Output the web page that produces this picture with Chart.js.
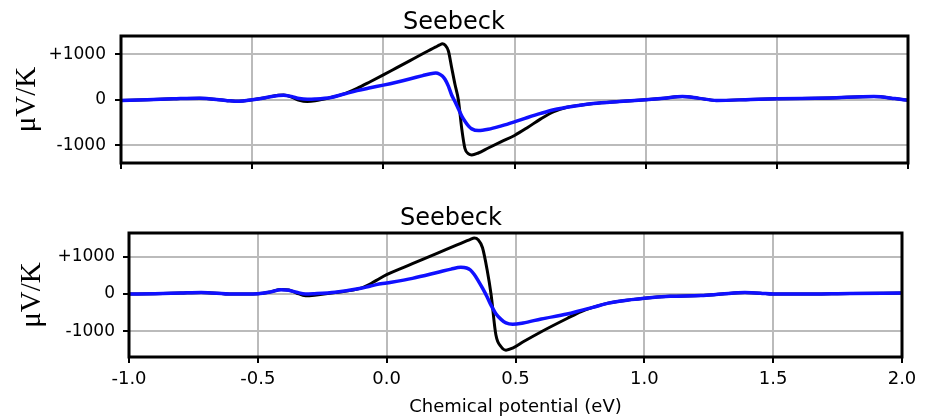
<!DOCTYPE html>
<html>
<head>
<meta charset="utf-8">
<script src="https://cdn.jsdelivr.net/npm/chart.js@4"></script>
<style>
  html, body { margin: 0; padding: 0; background: #fff; }
  #top-box { position: absolute; left: 0; top: 0; width: 935px; height: 190px; }
  #bottom-box { position: absolute; left: 0; top: 190px; width: 935px; height: 229px; }
</style>
</head>
<body>
<div id="top-box"><canvas id="topChart"></canvas></div>
<div id="bottom-box"><canvas id="bottomChart"></canvas></div>
<script>
// top panel
var topX = [-1.0, -0.9, -0.8, -0.7, -0.6, -0.55, -0.5, -0.45, -0.4, -0.38, -0.35, -0.32, -0.29, -0.26, -0.2, -0.15, -0.1, -0.05,
  0.0, 0.05, 0.1, 0.15, 0.18, 0.2, 0.215, 0.225, 0.235, 0.248, 0.26, 0.273, 0.286, 0.299, 0.311, 0.325, 0.337, 0.362,
  0.4, 0.45, 0.5, 0.55, 0.6, 0.65, 0.7, 0.75, 0.8, 0.9, 1.0, 1.07, 1.14, 1.2, 1.27, 1.4, 1.5, 1.7, 1.87, 1.95, 2.0];
var topBlack = [-15, 0, 20, 35, -15, -35, 0, 45, 100, 105, 60, -15, -40, -25, 50, 130, 250, 395,
  545, 700, 855, 1010, 1100, 1160, 1205, 1228, 1200, 1070, 720, 340, 0, -640, -1070, -1190, -1213, -1170,
  -1060, -920, -785, -610, -420, -260, -165, -120, -85, -40, 0, 35, 70, 35, -15, 5, 20, 40, 70, 25, -15];
var topBlue = [-15, 0, 20, 35, -15, -35, 0, 45, 95, 100, 70, 25, 10, 15, 50, 125, 200, 262,
  321, 385, 455, 530, 572, 585, 560, 520, 450, 300, 110, -40, -200, -360, -470, -580, -640, -678,
  -650, -575, -486, -390, -300, -220, -165, -120, -85, -40, 0, 35, 70, 35, -15, 5, 20, 40, 70, 25, -15];

// bottom panel
var botX = [-1.0, -0.9, -0.8, -0.72, -0.6, -0.5, -0.45, -0.41, -0.38, -0.35, -0.315, -0.28, -0.2, -0.1, -0.07, -0.04,
  0.0, 0.1, 0.2, 0.25, 0.288, 0.31, 0.325, 0.34, 0.355, 0.372, 0.39, 0.405, 0.424, 0.445, 0.463, 0.489, 0.53,
  0.6, 0.7, 0.755, 0.8, 0.86, 0.95, 1.0, 1.1, 1.22, 1.3, 1.39, 1.45, 1.5, 1.6, 1.8, 2.0];
var botBlack = [0, 10, 30, 45, 0, 10, 60, 125, 110, 30, -45, -30, 40, 160, 250, 370,
  525, 820, 1110, 1260, 1370, 1435, 1480, 1515, 1470, 1250, 650, 0, -1107, -1430, -1515, -1460, -1290,
  -1017, -660, -473, -360, -245, -150, -110, -60, -40, 0, 40, 25, 0, 0, 15, 27];
var botBlue = [0, 10, 30, 45, 0, 10, 60, 120, 105, 50, 0, 10, 50, 155, 205, 255,
  300, 425, 590, 675, 722, 705, 650, 530, 365, 160, -80, -300, -530, -690, -780, -816, -780,
  -672, -540, -440, -360, -245, -150, -110, -60, -40, 0, 40, 25, 0, 0, 15, 27];

var yTicks = [-1000, 0, 1000];

function toPoints(xs, ys) {
  return xs.map(function (x, i) { return { x: x, y: ys[i] }; });
}

var framePlugin = {
  id: 'frame',
  afterDraw: function (chart) {
    var a = chart.chartArea;
    var ctx = chart.ctx;
    ctx.save();
    ctx.strokeStyle = '#000';
    ctx.lineWidth = 3;
    ctx.strokeRect(a.left, a.top, a.right - a.left, a.bottom - a.top);
    ctx.restore();
  }
};

function makeChart(id, xs, black, blue, opts) {
  var ctx = document.getElementById(id).getContext('2d');
  return new Chart(ctx, {
    type: 'line',
    data: {
      datasets: [{
        label: 'black',
        data: toPoints(xs, black),
        borderColor: '#000',
        borderWidth: 3,
        pointRadius: 0,
        cubicInterpolationMode: 'monotone',
        order: 1
      }, {
        label: 'blue',
        data: toPoints(xs, blue),
        borderColor: '#1010ff',
        borderWidth: 3.5,
        pointRadius: 0,
        cubicInterpolationMode: 'monotone',
        order: 0
      }]
    },
    options: {
      responsive: true,
      maintainAspectRatio: false,
      animation: false,
      layout: { padding: { left: 0, right: opts.right, top: 0, bottom: 0 } },
      plugins: {
        legend: { display: false },
        tooltip: { enabled: false },
        title: {
          display: true,
          text: 'Seebeck',
          color: '#000',
          font: { family: 'DejaVu Sans', size: 24, weight: 'normal', lineHeight: 1 },
          padding: { top: opts.titleTop, bottom: opts.titleBottom }
        }
      },
      scales: {
        x: {
          type: 'linear',
          min: -1,
          max: 2,
          border: { display: false },
          grid: { color: '#bbbbbb', lineWidth: 2, tickLength: 6, tickColor: '#000', tickWidth: 2 },
          ticks: {
            display: opts.showX,
            stepSize: 0.5,
            padding: 6,
            color: '#000',
            font: { family: 'DejaVu Sans', size: 18 },
            maxRotation: 0,
            callback: function (v) { return v.toFixed(1); }
          },
          title: {
            display: opts.showX,
            text: 'Chemical potential (eV)',
            color: '#000',
            font: { family: 'DejaVu Sans', size: 18 },
            padding: { top: 0, bottom: 1 }
          },
          afterFit: function (scale) { scale.height = opts.xHeight; }
        },
        y: {
          min: opts.yMin,
          max: opts.yMax,
          border: { display: false },
          grid: { color: '#bbbbbb', lineWidth: 2, tickLength: 6, tickColor: '#000', tickWidth: 2 },
          afterBuildTicks: function (scale) {
            scale.ticks = yTicks.map(function (v) { return { value: v }; });
          },
          ticks: {
            padding: opts.yPad,
            color: '#000',
            font: { family: 'DejaVu Sans', size: 17 },
            callback: function (v) { return v > 0 ? '+' + v : String(v); }
          },
          title: {
            display: true,
            text: 'μV/K',
            color: '#000',
            font: { family: 'Liberation Serif', size: 29 },
            padding: { top: opts.yTitlePad, bottom: 0 }
          },
          afterFit: function (scale) { scale.width = opts.yWidth; }
        }
      }
    },
    plugins: [framePlugin]
  });
}

makeChart('topChart', topX, topBlack, topBlue, {
  right: 27, titleTop: 11, titleBottom: 1, showX: false, xHeight: 27,
  yMin: -1390, yMax: 1400, yPad: 9, yTitlePad: 10, yWidth: 121
});

makeChart('bottomChart', botX, botBlack, botBlue, {
  right: 33, titleTop: 17, titleBottom: 2, showX: true, xHeight: 62,
  yMin: -1700, yMax: 1650, yPad: 8, yTitlePad: 15, yWidth: 129
});
</script>
</body>
</html>
